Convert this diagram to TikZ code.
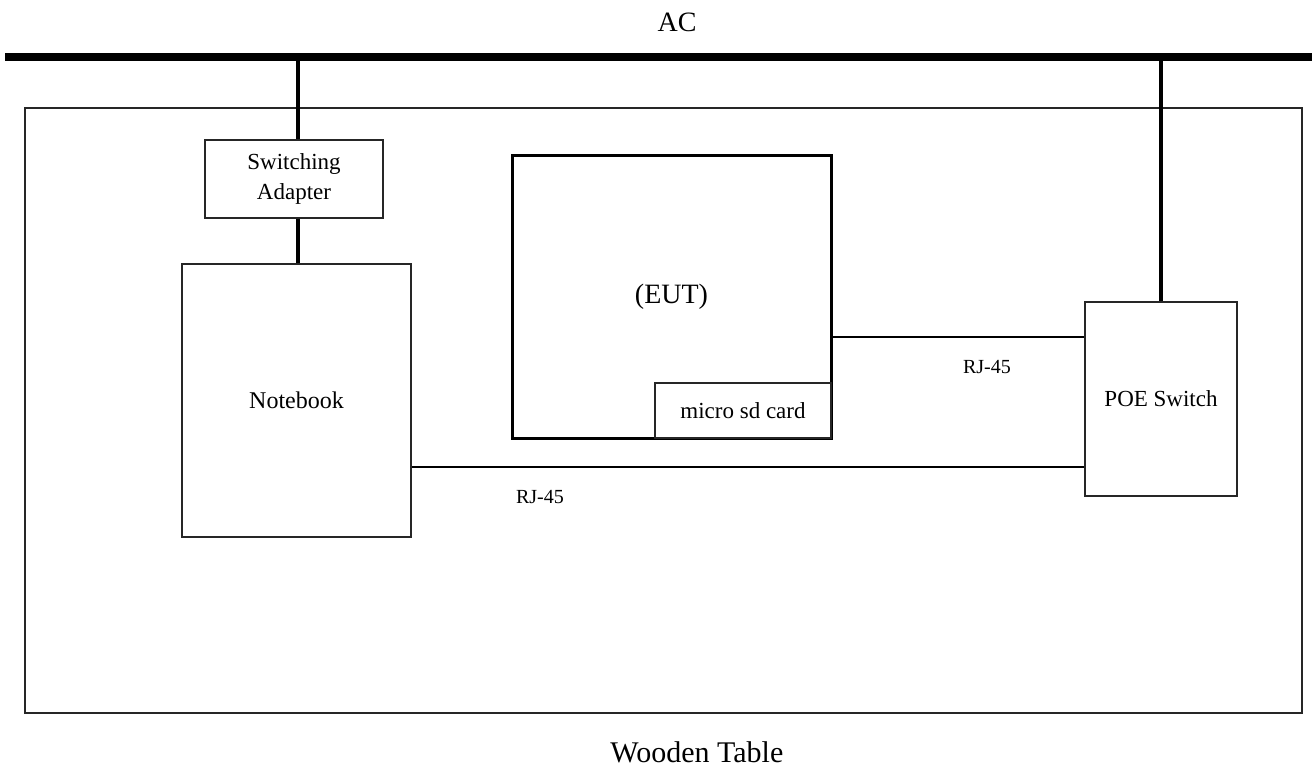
\documentclass[tikz,border=0pt]{standalone}
\usepackage{fontspec}
\setmainfont{Liberation Serif}
\begin{document}
\begin{tikzpicture}[x=0.5pt,y=-0.5pt]
          \tikzset{unit box/.style={draw=black!85,rectangle,line width=0.55pt,inner sep=0pt,align=center,fill=white,minimum width=#1},
                   power line/.style={line width=2pt},
                   rj line/.style={line width=0.55pt}}
          \useasboundingbox (0,0) rectangle (1312,767);

          \node [anchor=base,inner sep=0pt,font=\fontsize{14}{16}\selectfont] (actext) at (677,31) {AC};
          \coordinate (acleft) at (5,57);
          \coordinate (acright) at (1312,57);
          \draw [line width=4pt] (acleft) -- (acright);

          \node [unit box=638.5pt,minimum height=302.5pt] (table) at (663.5,410.5) {};
          \node [unit box=89pt,minimum height=39pt,font=\fontsize{11.5}{15}\selectfont] (adapter) at (294,179) {Switching\\Adapter};
          \node [unit box=114.5pt,minimum height=136.5pt,font=\fontsize{12}{14}\selectfont] (notebook) at (296.5,400.5) {Notebook};
          \node [unit box=159.5pt,minimum height=141.5pt,draw=black,line width=1.5pt,font=\fontsize{14}{16}\selectfont] (eut) at (671.5,296.5) {(EUT)};
          \node [unit box=88pt,minimum height=27.5pt,font=\fontsize{11.5}{14}\selectfont] (sdcard) at (743,410.5) {micro sd card};
          \node [unit box=76pt,minimum height=97pt,font=\fontsize{11.5}{14}\selectfont] (poe) at (1161,399) {POE Switch};

          \coordinate (taptop) at (298,57);
          \draw [power line] (taptop) -- (taptop |- adapter.north);
          \draw [power line] (adapter.south -| taptop) -- (taptop |- notebook.north);
          \draw [power line] (poe.north |- acleft) -- (poe.north);

          \draw [rj line] (eut.east |- 0,337) -- (poe.west |- 0,337);
          \draw [rj line] (notebook.east |- 0,467) -- (poe.west |- 0,467);
          \node [font=\fontsize{10}{12}\selectfont] (rjtop) at (987,367) {RJ-45};
          \node [font=\fontsize{10}{12}\selectfont] (rjbottom) at (540,497) {RJ-45};

          \node [anchor=base west,inner sep=0pt,font=\fontsize{15}{17}\selectfont] (tabletext) at (610,762) {Wooden Table};
        \end{tikzpicture}
\end{document}
